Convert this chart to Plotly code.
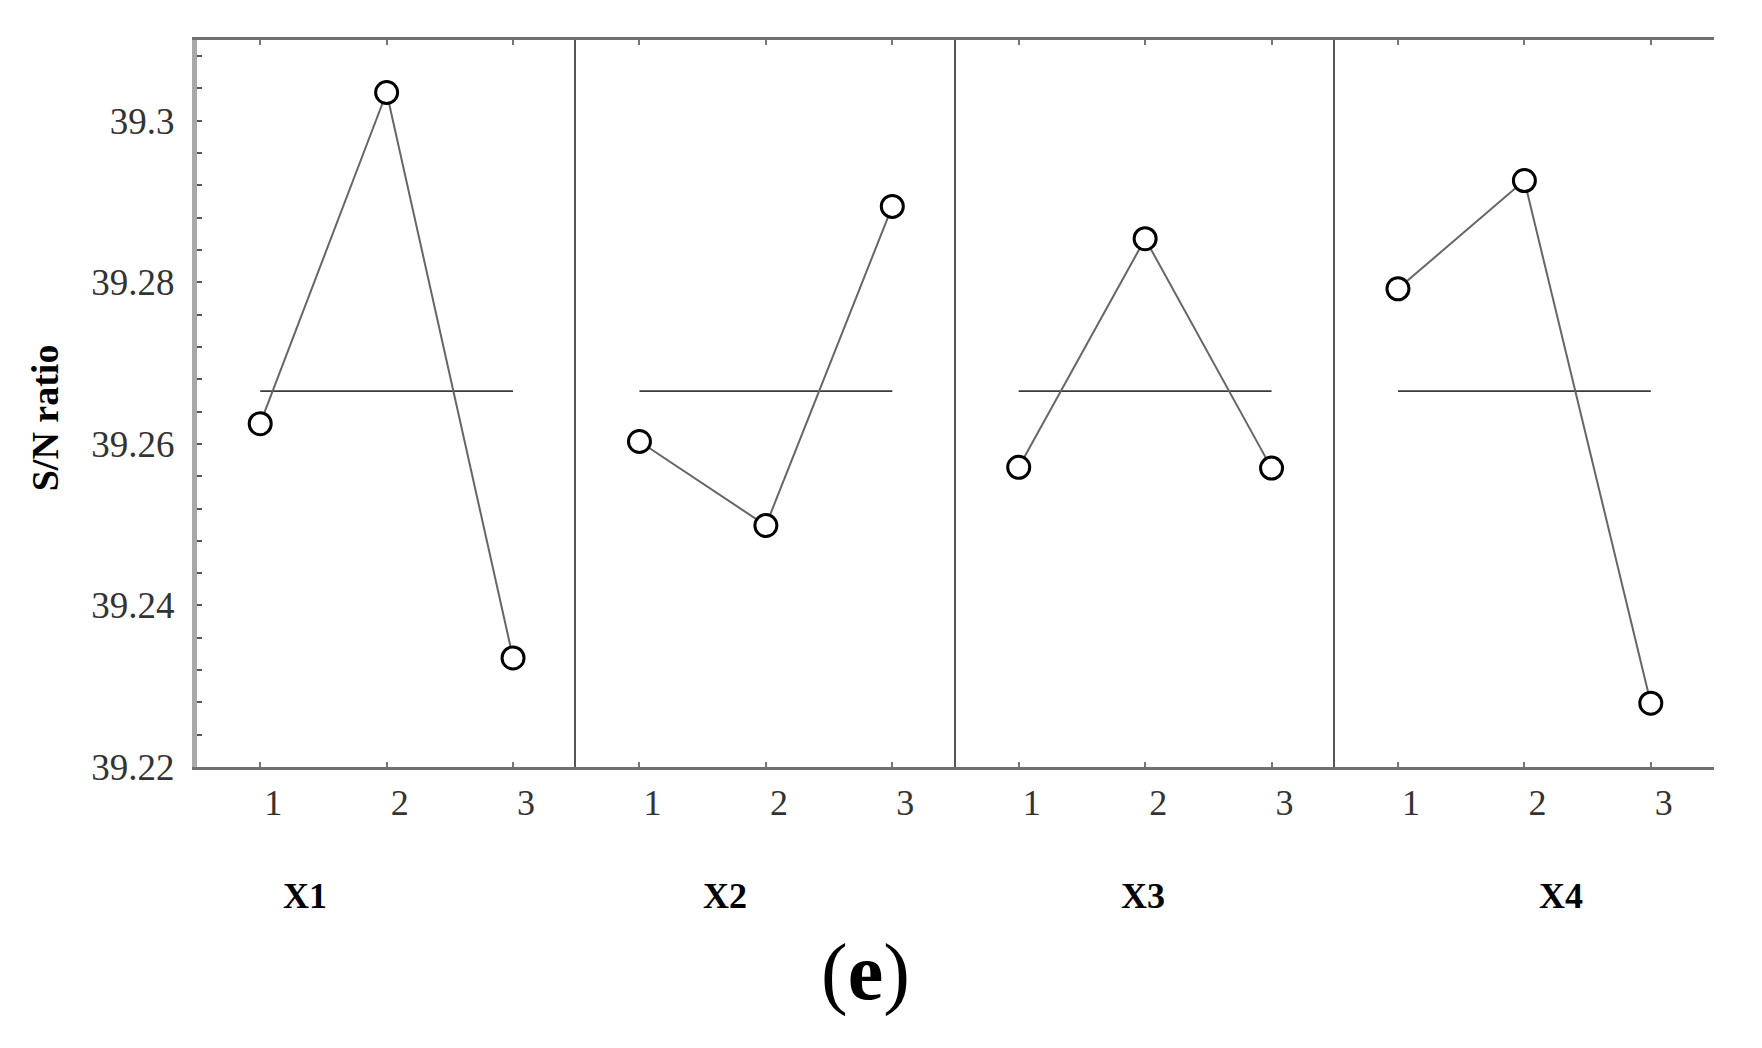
import plotly.graph_objects as go

# ---- data ----
levels = [1, 2, 3]
factors = ["X1", "X2", "X3", "X4"]
x1_sn = [39.2625, 39.3035, 39.2335]
x2_sn = [39.2603, 39.2499, 39.2894]
x3_sn = [39.2571, 39.2854, 39.2570]
x4_sn = [39.2792, 39.2926, 39.2279]
y_tick_vals = [39.22, 39.24, 39.26, 39.28, 39.3]
y_tick_text = ["39.22", "39.24", "39.26", "39.28", "39.3"]
y_title = "S/N ratio"
panel_label = "(e)"

series = [x1_sn, x2_sn, x3_sn, x4_sn]
all_vals = [v for s in series for v in s]
grand_mean = sum(all_vals) / len(all_vals)

SERIF = "Liberation Serif, Times New Roman, serif"
Y_RANGE = [39.22, 39.31]

fig = go.Figure()

for i, vals in enumerate(series):
    xa = "x" if i == 0 else f"x{i+1}"
    ya = "y" if i == 0 else f"y{i+1}"
    # grand mean reference line
    fig.add_trace(go.Scatter(
        x=[levels[0], levels[-1]], y=[grand_mean, grand_mean],
        mode="lines", line=dict(color="#3a3a3a", width=1.8),
        xaxis=xa, yaxis=ya, showlegend=False, hoverinfo="skip"))
    # factor-level means
    fig.add_trace(go.Scatter(
        x=levels, y=vals, mode="lines+markers",
        line=dict(color="#666666", width=2),
        marker=dict(symbol="circle", size=22, color="white",
                    line=dict(color="black", width=3)),
        xaxis=xa, yaxis=ya, showlegend=False, name=factors[i]))

# the page body adds an 8px offset; size the figure so the plot area lands
# where the reference has it
layout = dict(
    width=1754, height=1040,
    margin=dict(l=189, r=48, t=32, b=281),
    paper_bgcolor="white", plot_bgcolor="white",
    showlegend=False,
)

edges = [0.0, 0.25, 0.5, 0.75, 1.0]
for i in range(4):
    xkey = "xaxis" if i == 0 else f"xaxis{i+1}"
    ykey = "yaxis" if i == 0 else f"yaxis{i+1}"
    yname = "y" if i == 0 else f"y{i+1}"
    xname = "x" if i == 0 else f"x{i+1}"
    layout[xkey] = dict(
        domain=[edges[i], edges[i+1]], anchor=yname,
        range=[0.5, 3.5], tickvals=levels, ticktext=[str(v) for v in levels],
        ticks="inside", ticklen=5, tickwidth=2, tickcolor="#777777",
        showline=True, linecolor="#707070", linewidth=2.5, mirror="ticks",
        showgrid=False, zeroline=False,
        tickfont=dict(family=SERIF, size=36, color="#333333"),
        ticklabelshift=13, ticklabelstandoff=2,
        fixedrange=True,
    )
    if i == 0:
        layout[ykey] = dict(
            anchor=xname, range=Y_RANGE,
            tickvals=y_tick_vals, ticktext=y_tick_text,
            ticks="inside", ticklen=5, tickwidth=2, tickcolor="#555555",
            minor=dict(dtick=0.004, tick0=39.22, ticks="inside", ticklen=5,
                       tickwidth=2, tickcolor="#555555", showgrid=False),
            showline=True, linecolor="#a8a8a8", linewidth=5,
            showgrid=False, zeroline=False,
            tickfont=dict(family=SERIF, size=37, color="#333333"),
            ticklabelstandoff=10,
            fixedrange=True,
        )
    else:
        layout[ykey] = dict(
            anchor=xname, range=Y_RANGE, matches="y",
            showticklabels=False, ticks="",
            showline=True, linecolor="#555555", linewidth=2,
            showgrid=False, zeroline=False, fixedrange=True,
        )

# right border with inside ticks
layout["yaxis5"] = dict(
    overlaying="y4", anchor="x4", side="right", range=Y_RANGE,
    tickvals=y_tick_vals, showticklabels=False,
    ticks="inside", ticklen=5, tickwidth=2, tickcolor="#555555",
    minor=dict(dtick=0.004, tick0=39.22, ticks="inside", ticklen=5,
               tickwidth=2, tickcolor="#555555", showgrid=False),
    showline=True, linecolor="#707070", linewidth=3,
    showgrid=False, zeroline=False, fixedrange=True,
)

fig.update_layout(**layout)

# factor labels under panels
factor_x = [0.0712, 0.348, 0.6236, 0.899]
for fx, name in zip(factor_x, factors):
    fig.add_annotation(
        x=fx, y=-0.1774, xref="paper", yref="paper",
        text=f"<b>{name}</b>", showarrow=False,
        xanchor="center", yanchor="middle",
        font=dict(family=SERIF, size=36, color="black"))

# y-axis title
fig.add_annotation(
    x=-0.1002, y=0.481, xref="paper", yref="paper",
    text=f"<b>{y_title}</b>", textangle=-90, showarrow=False,
    xanchor="center", yanchor="middle",
    font=dict(family=SERIF, size=38, color="black"))

# panel label
fig.add_annotation(
    x=0.441, y=-0.282, xref="paper", yref="paper",
    text="(<b>e</b>)", showarrow=False,
    xanchor="center", yanchor="middle",
    font=dict(family=SERIF, size=80, color="black"))

fig.write_html("out.html")
